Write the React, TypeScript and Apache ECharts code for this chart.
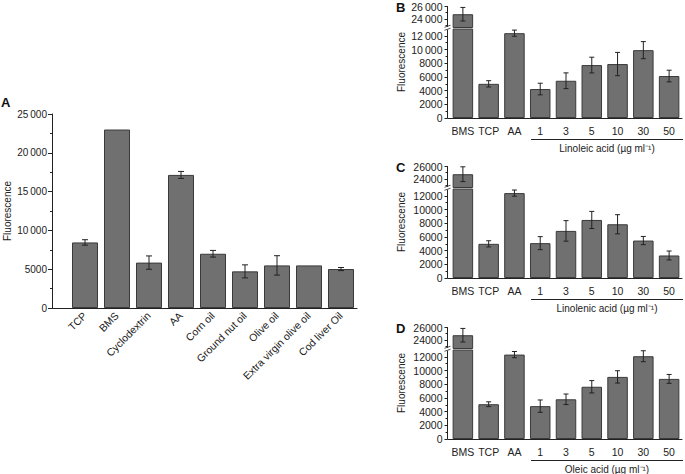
import React, { useEffect, useRef } from "react";
import * as echarts from "echarts";

// ---------- data ----------
const aCategories = ["TCP", "BMS", "Cyclodextrin", "AA", "Corn oil", "Ground nut oil", "Olive oil", "Extra virgin olive oil", "Cod liver Oil"];
const aValues = [8450, 23000, 5850, 17150, 6990, 4720, 5490, 5490, 5020];
const aErrors = [350, 0, 860, 450, 430, 840, 1250, 0, 200];

const fattyCategories = ["BMS", "TCP", "AA", "1", "3", "5", "10", "30", "50"];
const linoleicValues = [24750, 4990, 12390, 4230, 5440, 7730, 7880, 9910, 6130];
const linoleicErrors = [1100, 460, 450, 850, 1150, 1150, 1700, 1250, 850];
const linolenicValues = [24750, 4990, 12400, 5090, 6880, 8480, 7850, 5470, 3290];
const linolenicErrors = [1200, 450, 450, 950, 1500, 1250, 1400, 600, 650];
const oleicValues = [24750, 5080, 12330, 4800, 5800, 7630, 9070, 12090, 8780];
const oleicErrors = [1100, 350, 450, 900, 770, 900, 900, 800, 650];

const lowerMajor = [0, 2000, 4000, 6000, 8000, 10000, 12000];
const lowerMinor = [1000, 3000, 5000, 7000, 9000, 11000];
const upperMajor = [24000, 26000];
const upperMinor = [23000, 25000];

const FONT = "'Liberation Sans', Arial, Helvetica, sans-serif";
const BAR_FILL = "#707070";
const BAR_BORDER = "#3a3a3a";
const INK = "#222";
const LOWER_MAX = 13000;
const UPPER_MIN = 22600;
const UPPER_MAX = 26000;

function thin(v: number) {
  if (v >= 10000) {
    const s = String(v);
    return s.slice(0, s.length - 3) + "\u2009" + s.slice(s.length - 3);
  }
  return String(v);
}

function errorSeries(xAxisIndex: number, yAxisIndex: number, values: number[], errors: number[], cap: number, inRange: (v: number) => boolean) {
  const data = values
    .map((v, i) => [i, v, errors[i]])
    .filter((d) => d[2] > 0 && inRange(d[1]));
  return {
    type: "custom",
    xAxisIndex,
    yAxisIndex,
    z: 5,
    data,
    encode: { x: 0, y: 1 },
    renderItem: (params: any, api: any) => {
      const i = api.value(0);
      const v = api.value(1);
      const e = api.value(2);
      const top = api.coord([i, v + e]);
      const bot = api.coord([i, v - e]);
      const hw = cap / 2;
      const style = { stroke: INK, lineWidth: 1 };
      return {
        type: "group",
        children: [
          { type: "line", shape: { x1: top[0], y1: top[1], x2: bot[0], y2: bot[1] }, style },
          { type: "line", shape: { x1: top[0] - hw, y1: top[1], x2: top[0] + hw, y2: top[1] }, style },
          { type: "line", shape: { x1: bot[0] - hw, y1: bot[1], x2: bot[0] + hw, y2: bot[1] }, style },
        ],
      };
    },
  };
}

function buildOption() {
  const grid: any[] = [];
  const xAxis: any[] = [];
  const yAxis: any[] = [];
  const series: any[] = [];
  const graphic: any[] = [];

  // ---------- Panel A ----------
  grid.push({ left: 69, top: 114, width: 288, height: 194 });
  xAxis.push({
    type: "category",
    gridIndex: 0,
    data: aCategories,
    axisLine: { lineStyle: { color: INK } },
    axisTick: { length: 4, lineStyle: { color: INK } },
    axisLabel: { rotate: 45, interval: 0, fontSize: 10.5, color: INK, fontFamily: FONT, margin: 6 },
  });
  yAxis.push({
    type: "value",
    gridIndex: 0,
    min: 0,
    max: 25000,
    interval: 5000,
    offset: 17,
    axisLine: { show: true, lineStyle: { color: INK } },
    axisTick: { show: true, length: 4, lineStyle: { color: INK } },
    minorTick: { show: true, splitNumber: 2, length: 2, lineStyle: { color: INK } },
    splitLine: { show: false },
    axisLabel: { fontSize: 10, color: INK, fontFamily: FONT, margin: 5, formatter: (v: number) => thin(v) },
  });
  series.push({
    type: "bar",
    xAxisIndex: 0,
    yAxisIndex: 0,
    data: aValues,
    barWidth: 26,
    itemStyle: { color: BAR_FILL, borderColor: BAR_BORDER, borderWidth: 1 },
  });
  series.push(errorSeries(0, 0, aValues, aErrors, 6, () => true));
  graphic.push({ type: "line", shape: { x1: 52, y1: 308.5, x2: 70, y2: 308.5 }, style: { stroke: INK, lineWidth: 1 } });
  graphic.push({ type: "text", x: 1, y: 102.5, style: { text: "A", font: `bold 13px ${FONT}`, fill: "#111", verticalAlign: "middle" } });
  graphic.push({ type: "text", x: 7, y: 211, rotation: Math.PI / 2, style: { text: "Fluorescence", font: `10px ${FONT}`, fill: INK, align: "center", verticalAlign: "middle" } });

  // ---------- Panels B, C, D ----------
  const panels = [
    { letter: "B", zeroY: 118, values: linoleicValues, errors: linoleicErrors, title: "Linoleic acid (\u00b5g ml\u207b\u00b9)", spaced: true },
    { letter: "C", zeroY: 278, values: linolenicValues, errors: linolenicErrors, title: "Linolenic acid (\u00b5g ml\u207b\u00b9)", spaced: false },
    { letter: "D", zeroY: 439, values: oleicValues, errors: oleicErrors, title: "Oleic acid (\u00b5g ml\u207b\u00b9)", spaced: false },
  ];
  const left = 450;
  const width = 232;
  const axisX = 447.5;
  const off = left - axisX;

  panels.forEach((p) => {
    const gU = grid.length;
    grid.push({ left, width, top: p.zeroY - 111.5, height: 21 });
    const gL = grid.length;
    grid.push({ left, width, top: p.zeroY - 89, height: 89 });
    const fmt = (v: number) => (p.spaced ? thin(v) : String(v));

    // upper axes
    const xU = xAxis.length;
    xAxis.push({ type: "category", gridIndex: gU, data: fattyCategories, show: false });
    const yU = yAxis.length;
    yAxis.push({
      type: "value", gridIndex: gU, min: UPPER_MIN, max: UPPER_MAX, offset: off, position: "left",
      axisLine: { show: true, lineStyle: { color: INK } },
      axisTick: { show: true, length: 3, customValues: upperMajor, lineStyle: { color: INK } },
      splitLine: { show: false },
      axisLabel: { customValues: upperMajor, fontSize: 10.5, color: INK, fontFamily: FONT, margin: 5, formatter: fmt },
    });
    yAxis.push({
      type: "value", gridIndex: gU, min: UPPER_MIN, max: UPPER_MAX, offset: off, position: "left",
      axisLine: { show: false },
      axisTick: { show: true, length: 2, customValues: upperMinor, lineStyle: { color: INK } },
      splitLine: { show: false },
      axisLabel: { show: false },
    });

    // lower axes
    const xL = xAxis.length;
    xAxis.push({
      type: "category", gridIndex: gL, data: fattyCategories, position: "bottom",
      axisLine: { lineStyle: { color: INK } },
      axisTick: { length: 3, lineStyle: { color: INK } },
      axisLabel: { interval: 0, fontSize: 10.5, color: INK, fontFamily: FONT, margin: 7 },
    });
    const yL = yAxis.length;
    yAxis.push({
      type: "value", gridIndex: gL, min: 0, max: LOWER_MAX, offset: off, position: "left",
      axisLine: { show: true, lineStyle: { color: INK } },
      axisTick: { show: true, length: 3, customValues: lowerMajor, lineStyle: { color: INK } },
      splitLine: { show: false },
      axisLabel: { customValues: lowerMajor, fontSize: 10.5, color: INK, fontFamily: FONT, margin: 5, formatter: fmt },
    });
    yAxis.push({
      type: "value", gridIndex: gL, min: 0, max: LOWER_MAX, offset: off, position: "left",
      axisLine: { show: false },
      axisTick: { show: true, length: 2, customValues: lowerMinor, lineStyle: { color: INK } },
      splitLine: { show: false },
      axisLabel: { show: false },
    });

    const barStyle = { color: BAR_FILL, borderColor: BAR_BORDER, borderWidth: 1 };
    series.push({
      type: "bar", xAxisIndex: xU, yAxisIndex: yU, barWidth: 20.5, clip: true,
      data: p.values.map((v) => (v > UPPER_MIN ? v : "-")),
      itemStyle: barStyle,
    });
    series.push({
      type: "bar", xAxisIndex: xL, yAxisIndex: yL, barWidth: 20.5, clip: true,
      data: p.values,
      itemStyle: barStyle,
    });
    series.push(errorSeries(xU, yU, p.values, p.errors, 5, (v) => v > UPPER_MIN));
    series.push(errorSeries(xL, yL, p.values, p.errors, 5, (v) => v < LOWER_MAX));

    // axis corner extension
    graphic.push({ type: "line", shape: { x1: axisX, y1: p.zeroY + 0.5, x2: left + 1, y2: p.zeroY + 0.5 }, style: { stroke: INK, lineWidth: 1 } });
    // break marks
    const by = p.zeroY - 89.75;
    graphic.push({ type: "rect", shape: { x: axisX - 3, y: by - 1.5, width: 6, height: 3 }, style: { fill: "#fff" }, z: 10 });
    graphic.push({ type: "line", shape: { x1: axisX - 3, y1: by - 1, x2: axisX + 3, y2: by - 3 }, style: { stroke: INK, lineWidth: 0.8 }, z: 11 });
    graphic.push({ type: "line", shape: { x1: axisX - 3, y1: by + 2, x2: axisX + 3, y2: by }, style: { stroke: INK, lineWidth: 0.8 }, z: 11 });
    // bracket and title
    graphic.push({ type: "line", shape: { x1: 531, y1: p.zeroY + 21.5, x2: 683, y2: p.zeroY + 21.5 }, style: { stroke: INK, lineWidth: 1 } });
    graphic.push({ type: "text", x: 607, y: p.zeroY + 30.5, style: { text: p.title, font: `10px ${FONT}`, fill: INK, align: "center", verticalAlign: "middle" } });
    // letter and y title
    graphic.push({ type: "text", x: 396, y: p.zeroY - 111, style: { text: p.letter, font: `bold 13px ${FONT}`, fill: "#111", verticalAlign: "middle" } });
    graphic.push({ type: "text", x: 401.5, y: p.zeroY - 56, rotation: Math.PI / 2, style: { text: "Fluorescence", font: `10px ${FONT}`, fill: INK, align: "center", verticalAlign: "middle" } });
  });

  return {
    animation: false,
    backgroundColor: "#fff",
    textStyle: { fontFamily: FONT },
    grid,
    xAxis,
    yAxis,
    series,
    graphic,
  };
}

export default function App() {
  const ref = useRef<HTMLDivElement>(null);
  useEffect(() => {
    if (!ref.current) return;
    const chart = echarts.init(ref.current, undefined, { renderer: "svg" });
    chart.setOption(buildOption() as any);
    return () => chart.dispose();
  }, []);
  return (
    <div
      ref={ref}
      style={{ position: "absolute", left: 0, top: 0, width: 685, height: 474, background: "#fff" }}
    />
  );
}
